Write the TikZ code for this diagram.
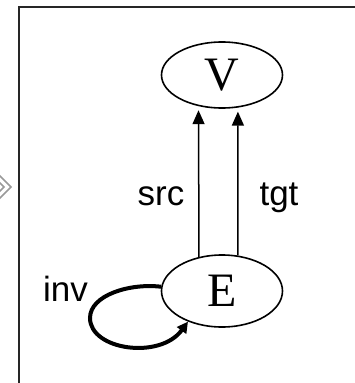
\documentclass[tikz,border=0pt]{standalone}
\usepackage{fontspec}
\setmainfont{Liberation Serif}
\newfontfamily\labelfont{Liberation Sans}
\usetikzlibrary{shapes.geometric,arrows.meta}
\begin{document}
\begin{tikzpicture}[x=1pt,y=1pt,
  setnode/.style={ellipse,draw,line width=1.6pt,minimum width=121pt,inner sep=0pt,
    font=\fontsize{48}{50}\selectfont},
  lbl/.style={anchor=base,inner sep=0pt,font=\labelfont\fontsize{35}{40}\selectfont},
  mapar/.style={line width=1.5pt,-{Triangle[length=14pt,width=12pt]},shorten >=4pt},
  looparr/.style={line width=4pt,-{Triangle[length=11pt,width=11pt]}}]
\useasboundingbox (0,0) rectangle (355,-383);
% side chevron and frame
\filldraw[fill=white,draw=black!40,line width=1.5pt]
  (-2,-174)--(11,-187)--(-2,-200)--(-2,-193)--(4,-187)--(-2,-181)--cycle;
\draw[black!85,line width=1.8pt] (19,-384) -- (19,-7) -- (356,-7);
% nodes
\node[setnode,minimum height=66pt] (V) at (222,-75) {V};
\node[setnode,minimum height=72pt] (E) at (222,-291) {E};
% labels
\node[lbl] (src) at (161,-205) {src};
\node[lbl] (tgt) at (279,-205) {tgt};
\node[lbl] (inv) at (65.5,-301.7) {inv};
% connectors
\draw[mapar] (E.124.6) -- (V.233.1);
\draw[mapar] (E.66.7) -- (V.-64.9);
\coordinate (lp) at (90,-318);
\draw[looparr] (E.176) .. controls (130,-283) and (90,-295) .. (lp)
  .. controls (90,-350) and (160,-360) .. (E.222);
\end{tikzpicture}
\end{document}
